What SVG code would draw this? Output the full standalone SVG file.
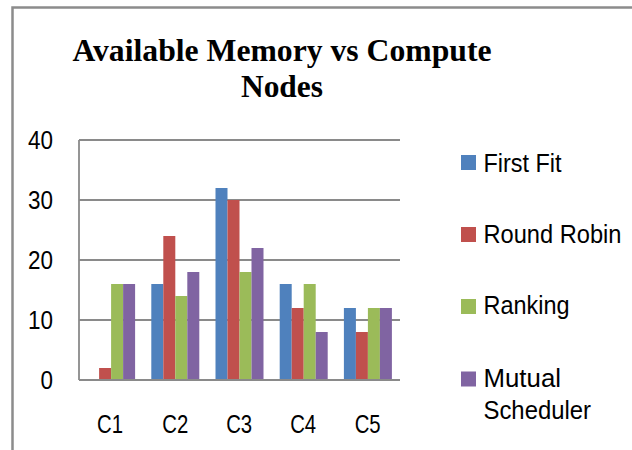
<svg xmlns="http://www.w3.org/2000/svg" width="632" height="450" viewBox="0 0 632 450">
<style>
.frame{fill:none;stroke:#8c8c8c;stroke-width:2.5}
.grid{stroke:#8a8a8a;stroke-width:1.8;fill:none}
.title{font-family:"Liberation Serif","Times New Roman",serif;font-weight:bold;font-size:31.5px;fill:#000;text-anchor:middle}
.lbl{font-family:"Liberation Sans",Arial,sans-serif;font-size:25px;fill:#000}
.ff{fill:#4F81BD}.rr{fill:#C0504D}.rk{fill:#9BBB59}.ms{fill:#8064A2}
</style>
<rect width="632" height="450" fill="#fff"/>
<path class="frame" d="M12.5,452 V7.5 H640"/>
<g id="title">
<text class="title" x="282" y="61" textLength="419" lengthAdjust="spacingAndGlyphs">Available Memory vs Compute</text>
<text class="title" x="282" y="97" textLength="82" lengthAdjust="spacingAndGlyphs">Nodes</text>
</g>
<g id="grid">
<path class="grid" d="M79,140H400M79,200H400M79,260H400M79,320H400M79,140V380"/>
</g>
<g id="y-axis" class="lbl" text-anchor="end">
<text x="53" y="148.5" textLength="25" lengthAdjust="spacingAndGlyphs">40</text>
<text x="53" y="208.5" textLength="25" lengthAdjust="spacingAndGlyphs">30</text>
<text x="53" y="268.5" textLength="25" lengthAdjust="spacingAndGlyphs">20</text>
<text x="53" y="328.5" textLength="25" lengthAdjust="spacingAndGlyphs">10</text>
<text x="53" y="388.5" textLength="12.5" lengthAdjust="spacingAndGlyphs">0</text>
</g>
<g id="series-first-fit" class="ff">
<rect x="151.3" y="284" width="12" height="96"/>
<rect x="215.5" y="188" width="12" height="192"/>
<rect x="279.7" y="284" width="12" height="96"/>
<rect x="343.9" y="308" width="12" height="72"/>
</g>
<g id="series-round-robin" class="rr">
<rect x="99.1" y="368" width="12" height="12"/>
<rect x="163.3" y="236" width="12" height="144"/>
<rect x="227.5" y="200" width="12" height="180"/>
<rect x="291.7" y="308" width="12" height="72"/>
<rect x="355.9" y="332" width="12" height="48"/>
</g>
<g id="series-ranking" class="rk">
<rect x="111.1" y="284" width="12" height="96"/>
<rect x="175.3" y="296" width="12" height="84"/>
<rect x="239.5" y="272" width="12" height="108"/>
<rect x="303.7" y="284" width="12" height="96"/>
<rect x="367.9" y="308" width="12" height="72"/>
</g>
<g id="series-mutual-scheduler" class="ms">
<rect x="123.1" y="284" width="12" height="96"/>
<rect x="187.3" y="272" width="12" height="108"/>
<rect x="251.5" y="248" width="12" height="132"/>
<rect x="315.7" y="332" width="12" height="48"/>
<rect x="379.9" y="308" width="12" height="72"/>
</g>
<g id="x-axis-line">
<path class="grid" d="M79,380H400"/>
</g>
<g id="x-axis" class="lbl" text-anchor="middle">
<text x="110" y="433" textLength="26" lengthAdjust="spacingAndGlyphs">C1</text>
<text x="175.3" y="433" textLength="26" lengthAdjust="spacingAndGlyphs">C2</text>
<text x="239.2" y="433" textLength="26" lengthAdjust="spacingAndGlyphs">C3</text>
<text x="303.2" y="433" textLength="26" lengthAdjust="spacingAndGlyphs">C4</text>
<text x="367.7" y="433" textLength="26" lengthAdjust="spacingAndGlyphs">C5</text>
</g>
<g id="legend-first-fit">
<rect class="ff" x="461" y="155" width="15" height="15"/>
<text class="lbl" x="483.5" y="171.5" textLength="78" lengthAdjust="spacingAndGlyphs">First Fit</text>
</g>
<g id="legend-round-robin">
<rect class="rr" x="461" y="227" width="15" height="15"/>
<text class="lbl" x="483.5" y="242.5" textLength="138" lengthAdjust="spacingAndGlyphs">Round Robin</text>
</g>
<g id="legend-ranking">
<rect class="rk" x="461" y="299" width="15" height="15"/>
<text class="lbl" x="483.5" y="314" textLength="86" lengthAdjust="spacingAndGlyphs">Ranking</text>
</g>
<g id="legend-mutual-scheduler">
<rect class="ms" x="461" y="371.5" width="15" height="15"/>
<text class="lbl" x="483.5" y="386.5" textLength="77.5" lengthAdjust="spacingAndGlyphs">Mutual</text>
<text class="lbl" x="483.5" y="419" textLength="107.5" lengthAdjust="spacingAndGlyphs">Scheduler</text>
</g>
</svg>
